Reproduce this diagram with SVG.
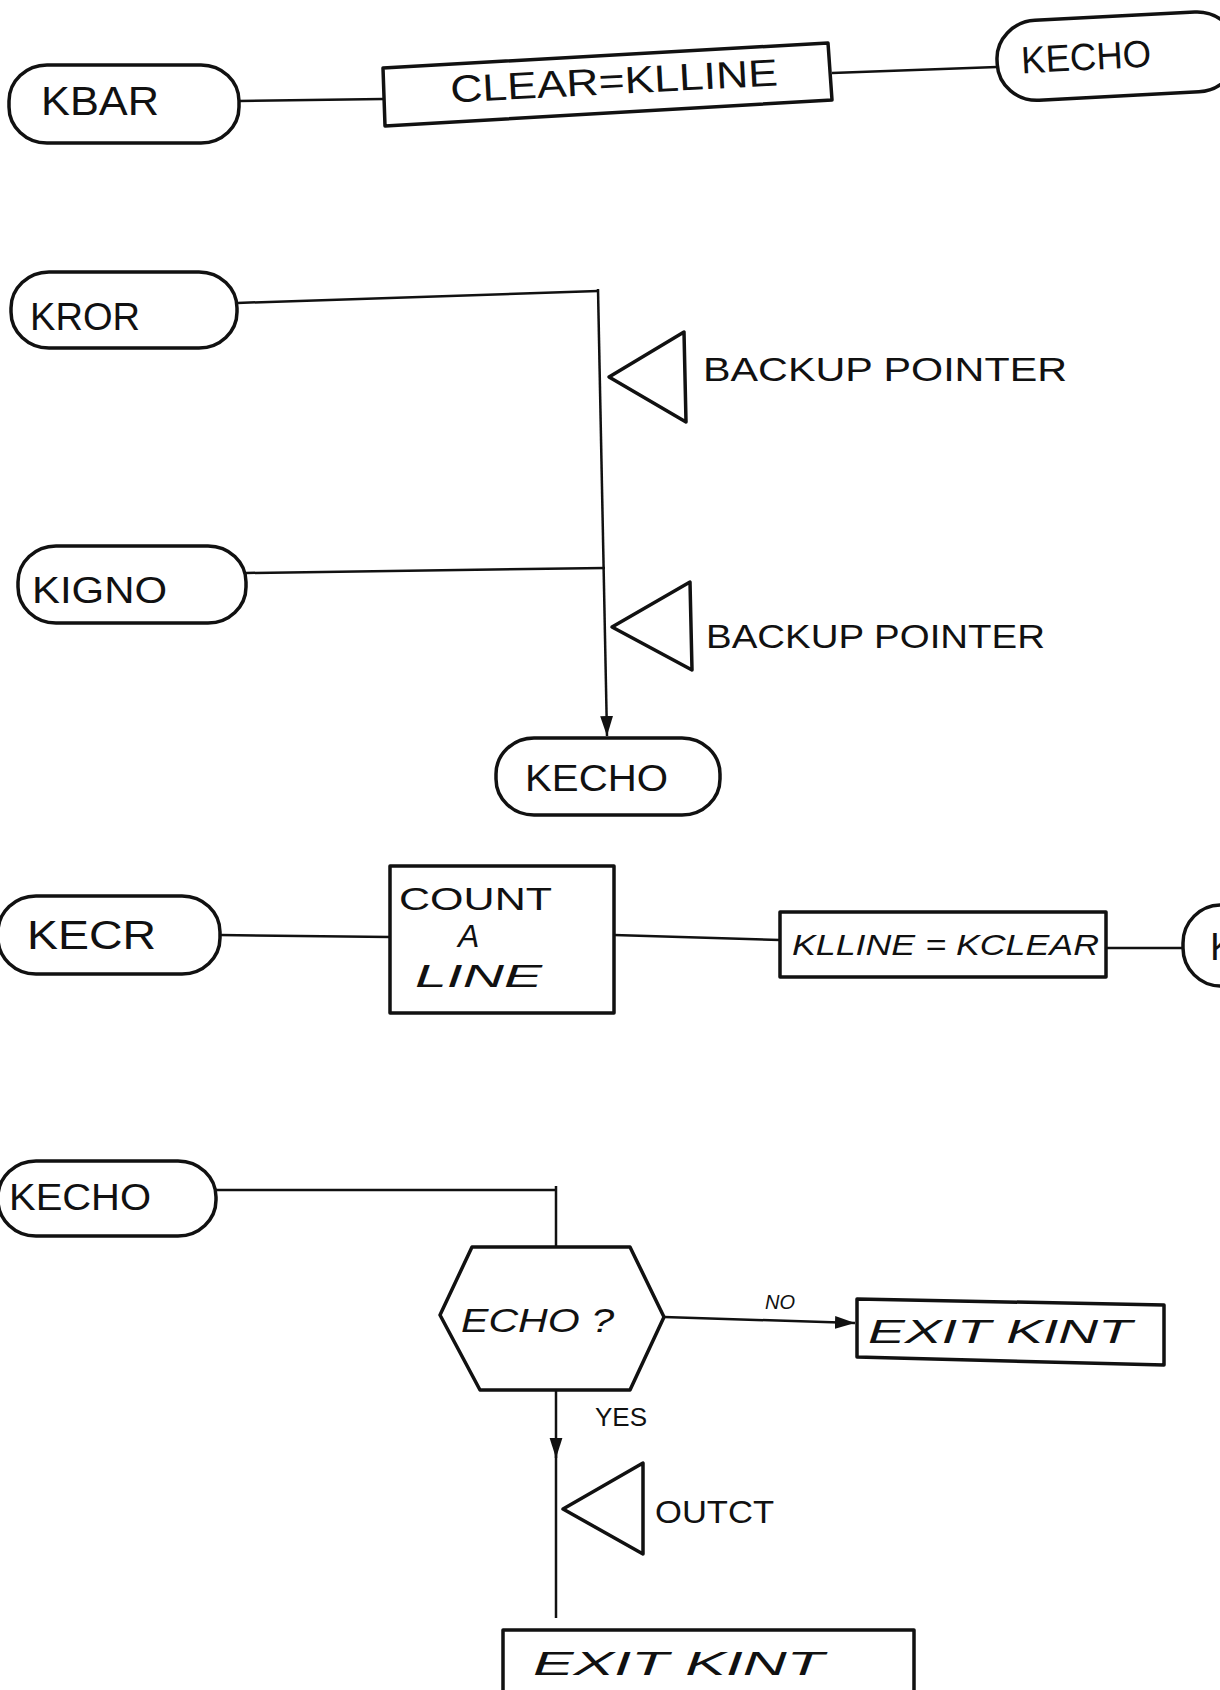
<svg xmlns="http://www.w3.org/2000/svg" width="1220" height="1690" viewBox="0 0 1220 1690">
<style>
.s{fill:none;stroke:#111;stroke-width:3.5;stroke-linejoin:round}
.c{fill:none;stroke:#111;stroke-width:2.5}
.t{font-family:"Liberation Sans",Arial,sans-serif;fill:#111}
.i{font-style:italic}
</style>
<defs>
<marker id="ah" viewBox="0 0 10 10" refX="10" refY="5" markerWidth="8" markerHeight="8" orient="auto" markerUnits="strokeWidth">
<path d="M0,1.8 L10,5 L0,8.2 z" fill="#111"/>
</marker>
</defs>
<rect width="1220" height="1690" fill="#fff"/>
<g id="connectors">
<path class="c" d="M239,101 L383,99"/>
<path class="c" d="M832,73 L997,67"/>
<path class="c" d="M237,303 L598,291"/>
<path class="c" d="M246,573 L605,568"/>
<path class="c" d="M598,289 L607,736" marker-end="url(#ah)"/>
<path class="c" d="M220,935 L390,937"/>
<path class="c" d="M614,935 L780,940"/>
<path class="c" d="M1106,948 L1183,948"/>
<path class="c" d="M216,1190 L556,1190 M556,1186 L556,1247"/>
<path class="c" d="M664,1317 L855,1323" marker-end="url(#ah)"/>
<path class="c" d="M556,1390 L556,1458" marker-end="url(#ah)"/>
<path class="c" d="M556,1450 L556,1618"/>
</g>
<g id="kbar">
<rect class="s" x="9" y="65" width="230" height="78" rx="38" ry="36"/>
<text class="t" x="41" y="115" font-size="40" textLength="118" lengthAdjust="spacingAndGlyphs">KBAR</text>
</g>
<g id="clear">
<polygon class="s" points="383,68 828,43 832,100 385,126"/>
<text class="t" x="614" y="94" font-size="38" text-anchor="middle" textLength="328" lengthAdjust="spacingAndGlyphs" transform="rotate(-3 614 81)">CLEAR=KLLINE</text>
</g>
<g id="kecho1">
<rect class="s" x="997" y="17" width="240" height="80" rx="40" ry="38" transform="rotate(-3 1100 57)"/>
<text class="t" x="1021" y="70" font-size="38" textLength="130" lengthAdjust="spacingAndGlyphs" transform="rotate(-3 1086 56)">KECHO</text>
</g>
<g id="kror">
<rect class="s" x="11" y="272" width="226" height="76" rx="38" ry="36"/>
<text class="t" x="30" y="330" font-size="38" textLength="110" lengthAdjust="spacingAndGlyphs">KROR</text>
</g>
<g id="backup1">
<polygon class="s" points="609,377 684,332 686,422"/>
<text class="t" x="703" y="381" font-size="34" textLength="364" lengthAdjust="spacingAndGlyphs">BACKUP POINTER</text>
</g>
<g id="kigno">
<rect class="s" x="18" y="546" width="228" height="77" rx="38" ry="36"/>
<text class="t" x="32" y="603" font-size="36" textLength="135" lengthAdjust="spacingAndGlyphs">KIGNO</text>
</g>
<g id="backup2">
<polygon class="s" points="612,627 690,582 692,670"/>
<text class="t" x="706" y="648" font-size="34" textLength="339" lengthAdjust="spacingAndGlyphs">BACKUP POINTER</text>
</g>
<g id="kecho2">
<rect class="s" x="496" y="738" width="224" height="77" rx="38" ry="36"/>
<text class="t" x="525" y="791" font-size="36" textLength="143" lengthAdjust="spacingAndGlyphs">KECHO</text>
</g>
<g id="kecr">
<rect class="s" x="-2" y="896" width="222" height="78" rx="38" ry="36"/>
<text class="t" x="27" y="949" font-size="40" textLength="129" lengthAdjust="spacingAndGlyphs">KECR</text>
</g>
<g id="count">
<rect class="s" x="390" y="866" width="224" height="147"/>
<text class="t" x="399" y="910" font-size="32" textLength="153" lengthAdjust="spacingAndGlyphs">COUNT</text>
<text class="t i" x="458" y="947" font-size="32">A</text>
<text class="t i" x="415" y="987" font-size="32" textLength="127" lengthAdjust="spacingAndGlyphs">LINE</text>
</g>
<g id="kline">
<rect class="s" x="780" y="912" width="326" height="65"/>
<text class="t i" x="792" y="955" font-size="30" textLength="307" lengthAdjust="spacingAndGlyphs">KLLINE = KCLEAR</text>
</g>
<g id="kecho3">
<rect class="s" x="1183" y="905" width="220" height="81" rx="38" ry="38"/>
<text class="t" x="1210" y="960" font-size="38">KECHO</text>
</g>
<g id="kecho4">
<rect class="s" x="-2" y="1161" width="218" height="75" rx="38" ry="36"/>
<text class="t" x="9" y="1210" font-size="36" textLength="142" lengthAdjust="spacingAndGlyphs">KECHO</text>
</g>
<g id="echo">
<polygon class="s" points="472,1247 630,1247 664,1317 630,1390 480,1390 440,1315"/>
<text class="t i" x="461" y="1332" font-size="34" textLength="153" lengthAdjust="spacingAndGlyphs">ECHO ?</text>
<text class="t i" x="765" y="1309" font-size="20">NO</text>
<text class="t" x="595" y="1426" font-size="26">YES</text>
</g>
<g id="exit1">
<polygon class="s" points="857,1299 1164,1305 1164,1365 857,1357"/>
<text class="t i" x="868" y="1343" font-size="34" textLength="264" lengthAdjust="spacingAndGlyphs">EXIT  KINT</text>
</g>
<g id="outct">
<polygon class="s" points="563,1509 643,1463 643,1554"/>
<text class="t" x="655" y="1523" font-size="32" textLength="119" lengthAdjust="spacingAndGlyphs">OUTCT</text>
</g>
<g id="exit2">
<rect class="s" x="503" y="1630" width="411" height="70"/>
<text class="t i" x="533" y="1675" font-size="34" textLength="291" lengthAdjust="spacingAndGlyphs">EXIT   KINT</text>
</g>
</svg>
